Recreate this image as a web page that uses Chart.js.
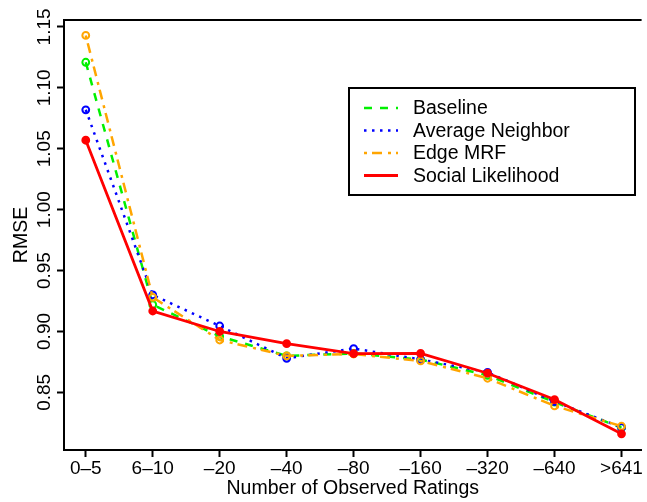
<!DOCTYPE html>
<html>
<head>
<meta charset="utf-8">
<script src="https://cdn.jsdelivr.net/npm/chart.js@4"></script>
<style>
  html, body { margin: 0; padding: 0; background: #fff; }
  canvas { display: block; }
</style>
</head>
<body>
<canvas id="rmseChart" width="647" height="502"></canvas>
<script>
// ---- data ----
const groups = ["0\u20135", "6\u201310", "\u201320", "\u201340", "\u201380", "\u2013160", "\u2013320", "\u2013640", ">641"];
const baseline    = [1.121, 0.922, 0.896, 0.880, 0.882, 0.877, 0.864, 0.842, 0.821];
const avgNeighbor = [1.082, 0.930, 0.9045, 0.878, 0.886, 0.877, 0.8665, 0.8425, 0.8212];
const edgeMrf     = [1.143, 0.928, 0.893, 0.880, 0.8815, 0.8758, 0.8616, 0.8389, 0.8222];
const socialLik   = [1.057, 0.9168, 0.900, 0.890, 0.8818, 0.882, 0.8657, 0.8441, 0.8160];
const yTicks = [0.85, 0.90, 0.95, 1.00, 1.05, 1.10, 1.15];

const FONT = '"Liberation Sans", Arial, Helvetica, sans-serif';

function toPoints(arr) {
    return arr.map((v, i) => ({ x: i, y: v }));
}

function series(label, values, color, dash, order, filled, width) {
    return {
        label: label,
        data: toPoints(values),
        borderColor: color,
        borderWidth: width,
        borderDash: dash,
        borderCapStyle: "butt",
        pointRadius: 3.4,
        pointBorderWidth: 2,
        pointBorderColor: color,
        pointBackgroundColor: filled ? color : "rgba(0,0,0,0)",
        pointHoverRadius: 3.4,
        tension: 0,
        fill: false,
        order: order
    };
}

/* =========================
   EXTRA DRAWING (frame top, rotated y labels, legend)
========================= */
const extrasPlugin = {
    id: "extras",
    afterDraw(chart) {
        const ctx = chart.ctx;
        const area = chart.chartArea;
        const yScale = chart.scales.y;

        ctx.save();

        // top of the box
        ctx.strokeStyle = "#000";
        ctx.lineWidth = 2;
        ctx.beginPath();
        ctx.moveTo(area.left - 1, area.top);
        ctx.lineTo(area.right, area.top);
        ctx.stroke();

        // rotated y tick labels
        ctx.fillStyle = "#000";
        ctx.font = "19px " + FONT;
        ctx.textAlign = "center";
        ctx.textBaseline = "alphabetic";
        yTicks.forEach(v => {
            const py = yScale.getPixelForValue(v);
            ctx.save();
            ctx.translate(50, py);
            ctx.rotate(-Math.PI / 2);
            ctx.fillText(v.toFixed(2), 0, 0);
            ctx.restore();
        });

        // legend
        const box = { x: 349, y: 88, w: 286, h: 107 };
        ctx.fillStyle = "#fff";
        ctx.fillRect(box.x, box.y, box.w, box.h);
        ctx.strokeStyle = "#000";
        ctx.lineWidth = 2;
        ctx.strokeRect(box.x, box.y, box.w, box.h);

        ctx.font = "19.5px " + FONT;
        ctx.textAlign = "left";
        ctx.textBaseline = "middle";
        chart.data.datasets.forEach((ds, i) => {
            const ry = 108 + i * 22.5;
            ctx.save();
            ctx.strokeStyle = ds.borderColor;
            ctx.lineWidth = ds.borderWidth;
            ctx.setLineDash(ds.borderDash || []);
            ctx.lineCap = "butt";
            ctx.beginPath();
            ctx.moveTo(364, ry);
            ctx.lineTo(398, ry);
            ctx.stroke();
            ctx.restore();
            ctx.fillStyle = "#000";
            ctx.fillText(ds.label, 413, ry + 1);
        });

        ctx.restore();
    }
};

const chart = new Chart(document.getElementById("rmseChart").getContext("2d"), {
    type: "line",
    data: {
        datasets: [
            series("Baseline", baseline, "#00f000", [8, 8], 4, false, 2.5),
            series("Average Neighbor", avgNeighbor, "#0000ff", [2.5, 5.5], 3, false, 2.5),
            series("Edge MRF", edgeMrf, "#ffa500", [3, 5, 10, 6], 2, false, 2.5),
            series("Social Likelihood", socialLik, "#ff0000", [], 1, true, 2.8)
        ]
    },
    options: {
        responsive: false,
        animation: false,
        layout: { padding: { top: 20, left: 0, right: 0, bottom: 0 } },
        plugins: {
            legend: { display: false },
            tooltip: { enabled: false }
        },
        scales: {
            x: {
                type: "linear",
                min: -0.325,
                max: 8.3,
                afterBuildTicks: s => { s.ticks = groups.map((g, i) => ({ value: i })); },
                afterFit: s => { s.height = 52; },
                grid: { drawOnChartArea: false, tickLength: 7, tickWidth: 2, tickColor: "#000" },
                border: { display: true, color: "#000", width: 2 },
                ticks: {
                    autoSkip: false,
                    maxRotation: 0,
                    padding: 0,
                    color: "#000",
                    font: { family: FONT, size: 19 },
                    callback: v => groups[v]
                },
                title: {
                    display: true,
                    text: "Number of Observed Ratings",
                    color: "#000",
                    font: { family: FONT, size: 19.5 },
                    padding: { top: 0, bottom: 2 }
                }
            },
            y: {
                type: "linear",
                min: 0.8027,
                max: 1.1557,
                afterBuildTicks: s => { s.ticks = yTicks.map(v => ({ value: v })); },
                afterFit: s => { s.width = 64; },
                grid: { drawOnChartArea: false, tickLength: 7, tickWidth: 2, tickColor: "#000" },
                border: { display: true, color: "#000", width: 2 },
                ticks: { display: false },
                title: {
                    display: true,
                    text: "RMSE",
                    color: "#000",
                    font: { family: FONT, size: 19.5 },
                    padding: { top: 10, bottom: 0 }
                }
            }
        }
    },
    plugins: [extrasPlugin]
});
</script>
</body>
</html>
